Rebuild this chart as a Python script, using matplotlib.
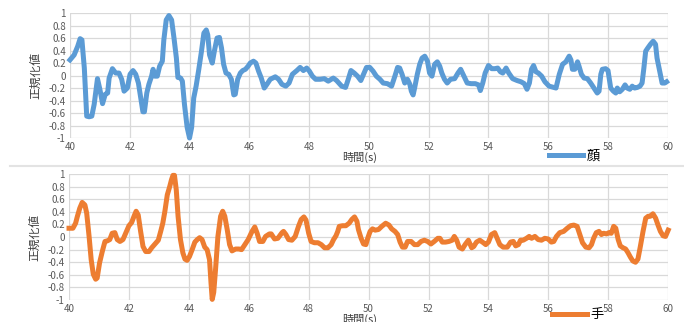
import numpy as np
import matplotlib
matplotlib.use('Agg')
import matplotlib.pyplot as plt
from matplotlib.lines import Line2D

plt.rcParams['font.family'] = ['Noto Sans CJK JP', 'DejaVu Sans']

# face signal
face_t = [40.0, 40.14, 40.26, 40.34, 40.4, 40.48, 40.56, 40.64, 40.73, 40.81, 40.92, 41.0, 41.09, 41.18,
          41.26, 41.31, 41.42, 41.53, 41.64, 41.73, 41.81, 41.92, 42.01, 42.11, 42.2, 42.29, 42.37, 42.44,
          42.49, 42.57, 42.64, 42.73, 42.78, 42.84, 42.92, 43.0, 43.09, 43.14, 43.22, 43.31, 43.4, 43.48,
          43.56, 43.61, 43.7, 43.76, 43.83, 43.92, 44.0, 44.07, 44.14, 44.22, 44.31, 44.4, 44.48, 44.56,
          44.61, 44.67, 44.76, 44.83, 44.92, 45.0, 45.07, 45.14, 45.22, 45.31, 45.4, 45.48, 45.53, 45.61,
          45.7, 45.78, 45.87, 45.96, 46.03, 46.14, 46.22, 46.31, 46.4, 46.5, 46.59, 46.7, 46.87, 46.98,
          47.09, 47.22, 47.33, 47.44, 47.59, 47.7, 47.81, 47.92, 48.01, 48.11, 48.22, 48.37, 48.51, 48.64,
          48.81, 48.92, 49.09, 49.22, 49.31, 49.4, 49.51, 49.62, 49.73, 49.84, 49.92, 50.03, 50.14, 50.25,
          50.37, 50.48, 50.62, 50.76, 50.87, 50.96, 51.03, 51.11, 51.2, 51.29, 51.37, 51.42, 51.48, 51.53,
          51.62, 51.7, 51.78, 51.87, 51.96, 52.03, 52.11, 52.2, 52.29, 52.37, 52.44, 52.53, 52.62, 52.73,
          52.87, 52.98, 53.07, 53.18, 53.29, 53.42, 53.56, 53.67, 53.73, 53.81, 53.89, 54.0, 54.11, 54.22,
          54.31, 54.4, 54.48, 54.59, 54.68, 54.81, 54.96, 55.09, 55.2, 55.29, 55.37, 55.44, 55.51, 55.59,
          55.67, 55.78, 55.89, 56.03, 56.18, 56.26, 56.37, 56.48, 56.59, 56.7, 56.76, 56.81, 56.89, 56.98,
          57.03, 57.11, 57.2, 57.31, 57.42, 57.53, 57.64, 57.7, 57.76, 57.81, 57.92, 58.0, 58.09, 58.18,
          58.26, 58.31, 58.39, 58.48, 58.57, 58.64, 58.73, 58.81, 58.89, 58.98, 59.07, 59.14, 59.2, 59.26,
          59.33, 59.42, 59.51, 59.59, 59.64, 59.73, 59.81, 59.9, 59.96]
face_v = [0.25, 0.33, 0.47, 0.59, 0.57, 0.12, -0.65, -0.66, -0.65, -0.46, -0.05, -0.22, -0.45, -0.30,
          -0.28, -0.04, 0.11, 0.04, 0.04, -0.06, -0.25, -0.20, 0.02, 0.08, 0.02, -0.12, -0.36, -0.58,
          -0.58, -0.28, -0.14, -0.01, 0.10, -0.01, -0.01, 0.15, 0.23, 0.57, 0.89, 0.96, 0.89, 0.60,
          0.28, -0.03, -0.04, -0.09, -0.46, -0.83, -1.0, -0.83, -0.36, -0.17, 0.10, 0.39, 0.68, 0.73,
          0.65, 0.33, 0.20, 0.39, 0.60, 0.61, 0.44, 0.18, 0.04, 0.02, -0.06, -0.31, -0.30, -0.06,
          0.04, 0.08, 0.10, 0.15, 0.20, 0.23, 0.20, 0.07, -0.04, -0.20, -0.14, -0.06, -0.02, -0.06,
          -0.14, -0.17, -0.12, 0.02, 0.08, 0.13, 0.08, 0.12, 0.07, -0.01, -0.06, -0.06, -0.05, -0.09,
          -0.04, -0.08, -0.17, -0.19, -0.06, 0.08, 0.04, -0.01, -0.08, 0.04, 0.13, 0.13, 0.07, -0.01,
          -0.06, -0.12, -0.13, -0.17, -0.01, 0.13, 0.12, 0.02, -0.12, -0.06, -0.14, -0.25, -0.31, -0.20,
          0.02, 0.18, 0.28, 0.31, 0.23, 0.04, -0.01, 0.18, 0.22, 0.15, 0.04, -0.06, -0.12, -0.06,
          -0.05, 0.04, 0.10, -0.01, -0.12, -0.13, -0.13, -0.15, -0.24, -0.12, 0.04, 0.16, 0.11, 0.11,
          0.12, 0.06, 0.04, 0.12, 0.04, -0.05, -0.08, -0.10, -0.13, -0.22, -0.12, 0.10, 0.16, 0.06,
          0.04, -0.01, -0.10, -0.17, -0.19, -0.20, 0.02, 0.18, 0.22, 0.31, 0.25, 0.10, 0.10, 0.22,
          0.15, 0.02, -0.04, -0.05, -0.12, -0.20, -0.28, -0.25, 0.02, 0.10, 0.11, 0.08, -0.20, -0.25,
          -0.28, -0.20, -0.26, -0.22, -0.15, -0.20, -0.22, -0.17, -0.20, -0.19, -0.17, -0.12, 0.12, 0.39,
          0.44, 0.50, 0.55, 0.50, 0.28, 0.07, -0.12, -0.12, -0.10]

# hand signal
hand_t = [40.0, 40.13, 40.22, 40.28, 40.36, 40.44, 40.53, 40.59, 40.67, 40.74, 40.81, 40.89, 40.94, 41.02,
          41.11, 41.2, 41.28, 41.36, 41.44, 41.53, 41.61, 41.7, 41.8, 41.89, 42.0, 42.09, 42.17, 42.24,
          42.31, 42.39, 42.47, 42.56, 42.67, 42.76, 42.87, 42.98, 43.06, 43.13, 43.2, 43.28, 43.36, 43.42,
          43.47, 43.52, 43.58, 43.64, 43.72, 43.8, 43.87, 43.94, 44.02, 44.11, 44.2, 44.28, 44.36, 44.44,
          44.53, 44.61, 44.69, 44.74, 44.78, 44.83, 44.89, 44.97, 45.06, 45.13, 45.2, 45.28, 45.36, 45.44,
          45.56, 45.67, 45.76, 45.87, 45.98, 46.11, 46.2, 46.28, 46.36, 46.47, 46.56, 46.69, 46.75, 46.86,
          46.97, 47.11, 47.16, 47.24, 47.33, 47.44, 47.55, 47.66, 47.75, 47.84, 47.91, 48.0, 48.08, 48.19,
          48.31, 48.42, 48.53, 48.64, 48.75, 48.83, 48.91, 48.97, 49.02, 49.13, 49.24, 49.35, 49.44, 49.53,
          49.61, 49.66, 49.75, 49.83, 49.91, 49.97, 50.05, 50.13, 50.22, 50.33, 50.44, 50.57, 50.68, 50.77,
          50.88, 50.97, 51.05, 51.13, 51.22, 51.3, 51.42, 51.53, 51.64, 51.75, 51.86, 51.97, 52.08, 52.19,
          52.31, 52.38, 52.46, 52.57, 52.68, 52.79, 52.86, 52.94, 53.02, 53.13, 53.22, 53.33, 53.44, 53.51,
          53.6, 53.71, 53.83, 53.91, 54.0, 54.1, 54.21, 54.29, 54.38, 54.49, 54.63, 54.74, 54.83, 54.91,
          55.0, 55.07, 55.16, 55.27, 55.36, 55.44, 55.55, 55.66, 55.77, 55.88, 55.99, 56.1, 56.18, 56.27,
          56.38, 56.51, 56.63, 56.74, 56.85, 56.96, 57.05, 57.14, 57.25, 57.36, 57.44, 57.51, 57.6, 57.69,
          57.77, 57.85, 57.94, 58.02, 58.1, 58.18, 58.25, 58.33, 58.4, 58.49, 58.58, 58.66, 58.74, 58.82,
          58.91, 58.99, 59.07, 59.16, 59.25, 59.33, 59.4, 59.49, 59.58, 59.66, 59.74, 59.83, 59.91, 60.0]
hand_v = [0.14, 0.14, 0.22, 0.33, 0.46, 0.55, 0.51, 0.38, 0.01, -0.36, -0.59, -0.67, -0.65, -0.41,
          -0.23, -0.07, -0.06, -0.04, 0.06, 0.07, -0.04, -0.07, -0.04, 0.06, 0.18, 0.23, 0.33, 0.41,
          0.35, 0.09, -0.15, -0.23, -0.23, -0.17, -0.11, -0.05, 0.09, 0.22, 0.41, 0.67, 0.80, 0.91,
          0.98, 0.98, 0.75, 0.33, -0.04, -0.25, -0.35, -0.37, -0.31, -0.20, -0.08, -0.04, -0.01, -0.04,
          -0.16, -0.20, -0.36, -0.73, -0.99, -0.88, -0.52, 0.01, 0.33, 0.41, 0.33, 0.12, -0.12, -0.22,
          -0.19, -0.19, -0.20, -0.12, -0.04, 0.09, 0.16, 0.06, -0.07, -0.07, 0.01, 0.05, 0.05, -0.03,
          -0.02, 0.07, 0.09, 0.04, -0.04, -0.05, 0.01, 0.17, 0.28, 0.32, 0.27, 0.06, -0.07, -0.09,
          -0.09, -0.12, -0.17, -0.17, -0.12, -0.04, 0.02, 0.09, 0.17, 0.18, 0.18, 0.22, 0.28, 0.32,
          0.25, 0.12, -0.02, -0.11, -0.12, -0.02, 0.09, 0.13, 0.11, 0.12, 0.17, 0.22, 0.19, 0.13,
          0.09, 0.04, -0.08, -0.16, -0.16, -0.07, -0.07, -0.12, -0.12, -0.07, -0.05, -0.07, -0.11, -0.07,
          -0.02, -0.02, -0.08, -0.08, -0.07, -0.05, 0.01, -0.05, -0.16, -0.19, -0.12, -0.05, -0.17, -0.15,
          -0.08, -0.05, -0.09, -0.12, -0.08, 0.04, 0.07, -0.02, -0.12, -0.16, -0.16, -0.08, -0.07, -0.14,
          -0.12, -0.05, -0.05, -0.02, 0.01, -0.02, 0.01, -0.04, -0.05, -0.02, -0.03, -0.08, -0.07, 0.01,
          0.07, 0.09, 0.14, 0.18, 0.19, 0.17, 0.04, -0.09, -0.16, -0.17, -0.12, -0.02, 0.07, 0.09,
          0.04, 0.06, 0.05, 0.07, 0.06, 0.17, 0.14, -0.04, -0.14, -0.17, -0.19, -0.25, -0.32, -0.38,
          -0.40, -0.35, -0.15, 0.09, 0.30, 0.33, 0.33, 0.37, 0.30, 0.19, 0.09, 0.02, 0.01, 0.11]

yticks = np.round(np.arange(-1, 1.01, 0.2), 1)
ytick_labels = ['-1', '-0.8', '-0.6', '-0.4', '-0.2', '0', '0.2', '0.4', '0.6', '0.8', '1']
xticks = np.arange(40, 61, 2)

grey_txt = '#595959'
grid_col = '#d9d9d9'

fig = plt.figure(figsize=(6.84, 3.22), dpi=100)

def setup(ax):
    ax.set_xlim(40, 60)
    ax.set_ylim(-1, 1)
    ax.set_xticks(xticks)
    ax.set_yticks(yticks)
    ax.set_yticklabels(ytick_labels)
    ax.grid(True, color=grid_col, linewidth=0.9)
    ax.set_axisbelow(True)
    for s in ax.spines.values():
        s.set_visible(False)
    ax.tick_params(length=0, labelsize=7, labelcolor=grey_txt, pad=3)
    ax.set_ylabel('正規化値', fontsize=8.5, color='#404040', labelpad=5)

ax1 = fig.add_axes([0.1023, 0.5714, 0.874, 0.388])
setup(ax1)
ax1.plot(face_t, face_v, color='#5b9bd5', linewidth=3.6, solid_joinstyle='round', label='顔', clip_on=False)
ax1.legend(loc='center', bbox_to_anchor=(0.84, 0.516), bbox_transform=fig.transFigure,
           frameon=False, fontsize=9.5, handlelength=2.6, handletextpad=0.3)
fig.text(0.526, 0.527, '時間(s)', ha='center', va='top', fontsize=8, color='#404040')

ax2 = fig.add_axes([0.1009, 0.0683, 0.876, 0.391])
setup(ax2)
ax2.plot(hand_t, hand_v, color='#ed7d31', linewidth=3.6, solid_joinstyle='round', label='手', clip_on=False)
ax2.legend(loc='center', bbox_to_anchor=(0.845, 0.022), bbox_transform=fig.transFigure,
           frameon=False, fontsize=9.5, handlelength=2.6, handletextpad=0.3)
fig.text(0.526, 0.025, '時間(s)', ha='center', va='top', fontsize=8, color='#404040')

# thin separator between the two charts
fig.add_artist(Line2D([0.015, 1.0], [0.485, 0.485], transform=fig.transFigure, color='#e3e3e3', linewidth=1.5))

plt.savefig('out.png', dpi=100)
